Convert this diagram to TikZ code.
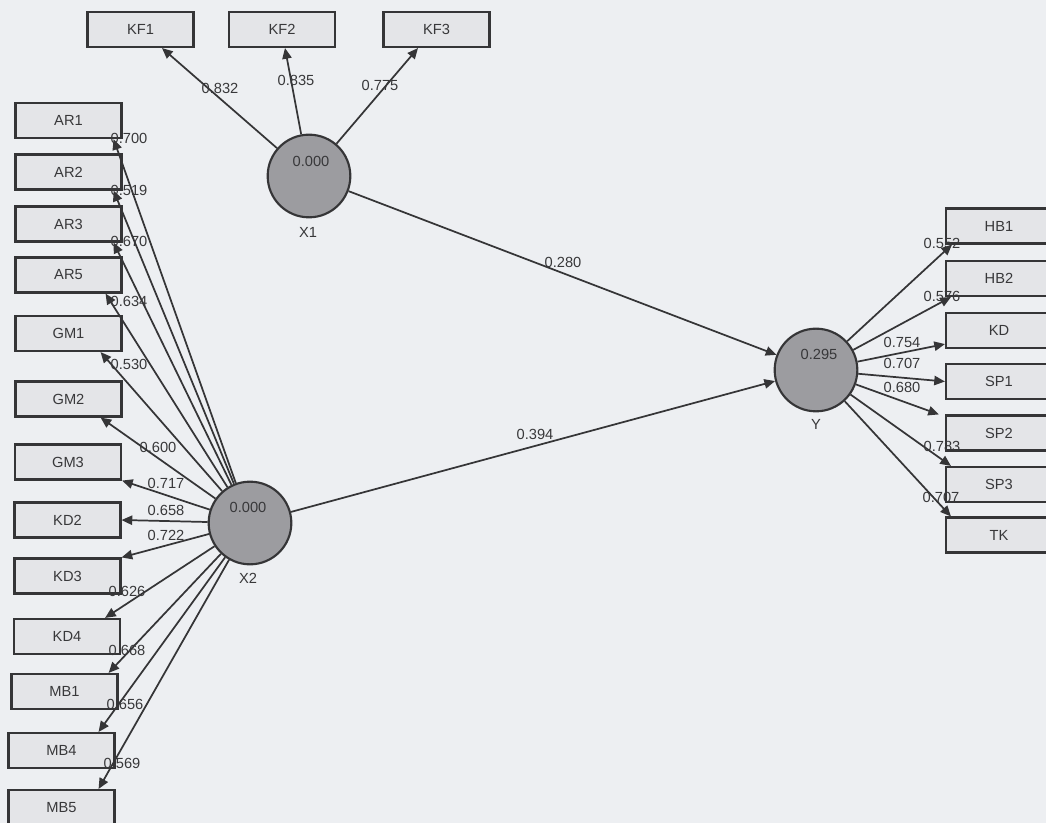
\documentclass[tikz,border=0pt]{standalone}
\usepackage{fontspec}
\setmainfont{Liberation Sans}
\usetikzlibrary{arrows.meta,calc}
\definecolor{bg}{HTML}{EDEFF2}
\definecolor{boxC}{HTML}{E4E5E8}
\definecolor{circC}{HTML}{9C9CA0}
\definecolor{lineC}{HTML}{353537}
\definecolor{txtC}{HTML}{38383A}
\begin{document}
\begin{tikzpicture}[x=0.75pt,y=-0.75pt,
  ind/.style={draw=lineC, line width=1.6pt, fill=boxC, minimum width=79.5pt, minimum height=26.25pt, inner sep=0pt, font=\fontsize{11}{12}\selectfont, text=txtC},
  lat/.style={circle, draw=lineC, line width=1.6pt, fill=circC, minimum size=62pt, inner sep=0pt},
  ld/.style={-{Triangle[length=8pt,width=7pt]}, draw=lineC, line width=1.3pt},
  val/.style={font=\fontsize{11}{12}\selectfont, text=txtC, inner sep=0pt}]
\path[use as bounding box, fill=bg] (0,0) rectangle (1046,823);
\clip (0,0) rectangle (1046,823);

% indicator boxes
\node[ind] (KF1) at (140.5,29.5) {KF1};
\node[ind] (KF2) at (282,29.5) {KF2};
\node[ind] (KF3) at (436.5,29.5) {KF3};

\node[ind] (AR1) at (68.5,120.5) {AR1};
\node[ind] (AR2) at (68.5,172) {AR2};
\node[ind] (AR3) at (68.5,224) {AR3};
\node[ind] (AR5) at (68.5,275) {AR5};
\node[ind] (GM1) at (68.5,333.5) {GM1};
\node[ind] (GM2) at (68.5,399) {GM2};
\node[ind] (GM3) at (68,462) {GM3};
\node[ind] (KD2) at (67.5,520) {KD2};
\node[ind] (KD3) at (67.5,576) {KD3};
\node[ind] (KD4) at (67,636.5) {KD4};
\node[ind] (MB1) at (64.5,691.5) {MB1};
\node[ind] (MB4) at (61.5,750.5) {MB4};
\node[ind] (MB5) at (61.5,807.5) {MB5};

\node[ind] (HB1) at (999,226) {HB1};
\node[ind] (HB2) at (999,278.5) {HB2};
\node[ind] (KD) at (999,330.5) {KD};
\node[ind] (SP1) at (999,381.5) {SP1};
\node[ind] (SP2) at (999,433) {SP2};
\node[ind] (SP3) at (999,484.5) {SP3};
\node[ind] (TK) at (999,535) {TK};

% latent variables
\node[lat] (X1) at (309,176) {};
\node[lat] (X2) at (250,523) {};
\node[lat] (Y) at (816,370) {};
\node[val] (X1v) at (311,161) {0.000};
\node[val] (X2v) at (248,507) {0.000};
\node[val] (Yv) at (819,354) {0.295};
\node[val] (X1n) at (308,232) {X1};
\node[val] (X2n) at (248,578) {X2};
\node[val] (Yn) at (816,424) {Y};

% X1 loadings
\draw[ld] (X1) -- ($(KF1.south)+(21.5,0)$);
\draw[ld] (X1) -- ($(KF2.south)+(3,0)$);
\draw[ld] (X1) -- ($(KF3.south)+(-18.5,0)$);
\node[val] (l1) at (220,88) {0.832};
\node[val] (l2) at (296,80) {0.835};
\node[val] (l3) at (380,85) {0.775};

% X2 loadings
\draw[ld] (X2) -- ($(AR1.south east)+(-9,0)$);
\draw[ld] (X2) -- ($(AR2.south east)+(-9,0)$);
\draw[ld] (X2) -- ($(AR3.south east)+(-9,0)$);
\draw[ld] (X2) -- ($(AR5.south east)+(-17,0)$);
\draw[ld] (X2) -- ($(GM1.south east)+(-22,0)$);
\draw[ld] (X2) -- ($(GM2.south east)+(-22,0)$);
\draw[ld] (X2) -- (GM3.south east);
\draw[ld] (X2) -- (KD2.east);
\draw[ld] (X2) -- (KD3.north east);
\draw[ld] (X2) -- ($(KD4.north east)+(-16,0)$);
\draw[ld] (X2) -- ($(MB1.north east)+(-10,0)$);
\draw[ld] (X2) -- ($(MB4.north east)+(-17,0)$);
\draw[ld] (X2) -- ($(MB5.north east)+(-17,0)$);
\node[val] (m1) at (129,138) {0.700};
\node[val] (m2) at (129,190) {0.519};
\node[val] (m3) at (129,241) {0.670};
\node[val] (m4) at (129,301) {0.634};
\node[val] (m5) at (129,364) {0.530};
\node[val] (m6) at (158,447) {0.600};
\node[val] (m7) at (166,483) {0.717};
\node[val] (m8) at (166,510) {0.658};
\node[val] (m9) at (166,535) {0.722};
\node[val] (m10) at (127,591) {0.626};
\node[val] (m11) at (127,650) {0.668};
\node[val] (m12) at (125,704) {0.656};
\node[val] (m13) at (122,763) {0.569};

% Y loadings
\draw[ld] (Y) -- ($(HB1.south west)+(7,0)$);
\draw[ld] (Y) -- ($(HB2.south west)+(6,0)$);
\draw[ld] (Y) -- ($(KD.south west)+(0,-5)$);
\draw[ld] (Y) -- (SP1.west);
\draw[ld] (Y) -- ($(SP2.north west)+(-6,0)$);
\draw[ld] (Y) -- ($(SP3.north west)+(6,0)$);
\draw[ld] (Y) -- ($(TK.north west)+(6,0)$);
\node[val] (r1) at (942,243) {0.552};
\node[val] (r2) at (942,296) {0.576};
\node[val] (r3) at (902,342) {0.754};
\node[val] (r4) at (902,363) {0.707};
\node[val] (r5) at (902,387) {0.680};
\node[val] (r6) at (942,446) {0.783};
\node[val] (r7) at (941,497) {0.707};

% structural paths
\draw[ld] (X1) -- (Y);
\draw[ld] (X2) -- (Y);
\node[val] (p1) at (563,262) {0.280};
\node[val] (p2) at (535,434) {0.394};
\end{tikzpicture}
\end{document}
